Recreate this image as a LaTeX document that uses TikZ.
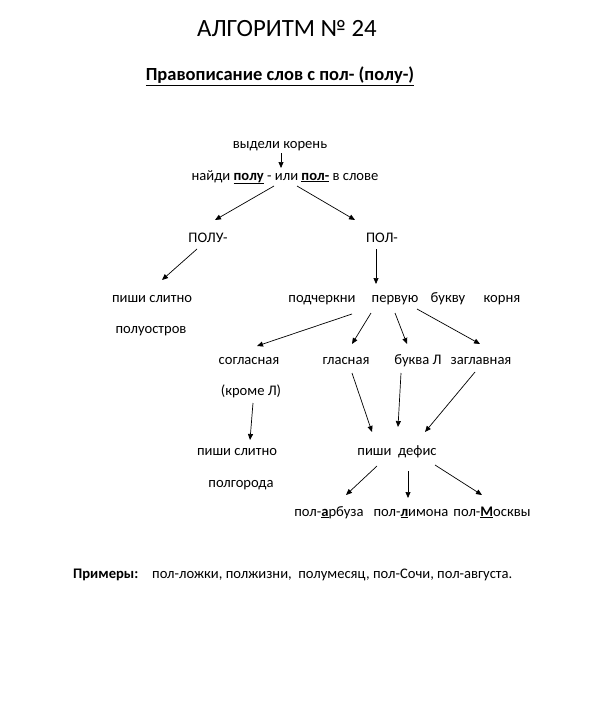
\documentclass[tikz,border=0pt]{standalone}
\usepackage{fontspec}
\setmainfont{Carlito}
\usetikzlibrary{arrows.meta,calc}
\begin{document}
\begin{tikzpicture}[x=1pt,y=-1pt,
  txt/.style={inner sep=0pt, anchor=base, font=\fontsize{14.6}{17}\selectfont},
  arr/.style={-{Triangle[length=6pt,width=5pt]}, line width=0.7pt}]
\useasboundingbox (0,0) rectangle (591,717);
\fill[white] (0,0) rectangle (591,717);

\node[txt, font=\fontsize{24.8}{29}\selectfont] (title) at (287,37) {АЛГОРИТМ № 24};
\node[txt, font=\fontsize{18.5}{22}\selectfont\bfseries] (sub) at (280,81) {\underline{Правописание слов с пол- (полу-)}};

\node[txt] (vyd) at (280,148) {выдели корень};
\node[txt] (naidi) at (285,180) {найди \underline{\textbf{полу}} - или \underline{\textbf{пол-}} в слове};
\node[txt] (polu) at (208,242) {ПОЛУ-};
\node[txt] (pol) at (382,242) {ПОЛ-};
\node[txt] (pishi1) at (152,302) {пиши слитно};
\node[txt] (poluostr) at (151,333) {полуостров};
\node[txt] (podch) at (322,302) {подчеркни};
\node[txt] (perv) at (395,302) {первую};
\node[txt] (bukvu) at (448,302) {букву};
\node[txt] (kornya) at (502,302) {корня};
\node[txt] (sogl) at (249,364) {согласная};
\node[txt] (glas) at (346,364) {гласная};
\node[txt] (bukval) at (418,364) {буква Л};
\node[txt] (zagl) at (481,364) {заглавная};
\node[txt] (krome) at (251,395) {(кроме Л)};
\node[txt] (pishi2) at (237,455) {пиши слитно};
\node[txt] (defis) at (397,455) {пиши\ \ дефис};
\node[txt] (polgor) at (241,487) {полгорода};
\node[txt] (arb) at (329,516) {пол-\underline{\textbf{а}}рбуза};
\node[txt] (lim) at (411,516) {пол-\underline{\textbf{л}}имона};
\node[txt] (mosk) at (492,516) {пол-\underline{\textbf{М}}осквы};
\node[txt, anchor=base west, font=\fontsize{14.6}{17}\selectfont\bfseries] (prim) at (73,578) {Примеры:};
\node[txt, anchor=base west] (primtext) at (152,578) {пол-ложки, полжизни,\ \ полумесяц, пол-Сочи, пол-августа.};

\draw[arr] ($(vyd.base)+(1,5)$) -- ($(naidi.base)+(-4,-12)$);
\draw[arr] ($(naidi.base)+(-11,6)$) -- ($(polu.base)+(7,-22)$);
\draw[arr] ($(naidi.base)+(12,6)$) -- ($(pol.base)+(-27,-22)$);
\draw[arr] ($(polu.base)+(-11,7)$) -- ($(pishi1.base)+(10,-22)$);
\draw[arr] ($(pol.base)+(-6,7)$) -- ($(perv.base)+(-19,-18)$);
\draw[arr] ($(perv.base)+(-43,12)$) -- ($(sogl.base)+(8,-18)$);
\draw[arr] ($(perv.base)+(-24,11)$) -- ($(glas.base)+(6,-20)$);
\draw[arr] ($(perv.base)+(0,11)$) -- ($(bukval.base)+(-11,-20)$);
\draw[arr] ($(perv.base)+(22,7)$) -- ($(zagl.base)+(-1,-20)$);
\draw[arr] ($(krome.base)+(2,8)$) -- ($(pishi2.base)+(13,-15)$);
\draw[arr] ($(glas.base)+(6,9)$) -- ($(defis.base)+(-25,-23)$);
\draw[arr] ($(bukval.base)+(-17,9)$) -- ($(defis.base)+(1,-28)$);
\draw[arr] ($(zagl.base)+(-6,8)$) -- ($(defis.base)+(28,-23)$);
\draw[arr] ($(defis.base)+(-20,11)$) -- ($(arb.base)+(17,-21)$);
\draw[arr] ($(defis.base)+(11,16)$) -- ($(lim.base)+(-3,-18)$);
\draw[arr] ($(defis.base)+(38,10)$) -- ($(mosk.base)+(-10,-21)$);
\end{tikzpicture}
\end{document}
